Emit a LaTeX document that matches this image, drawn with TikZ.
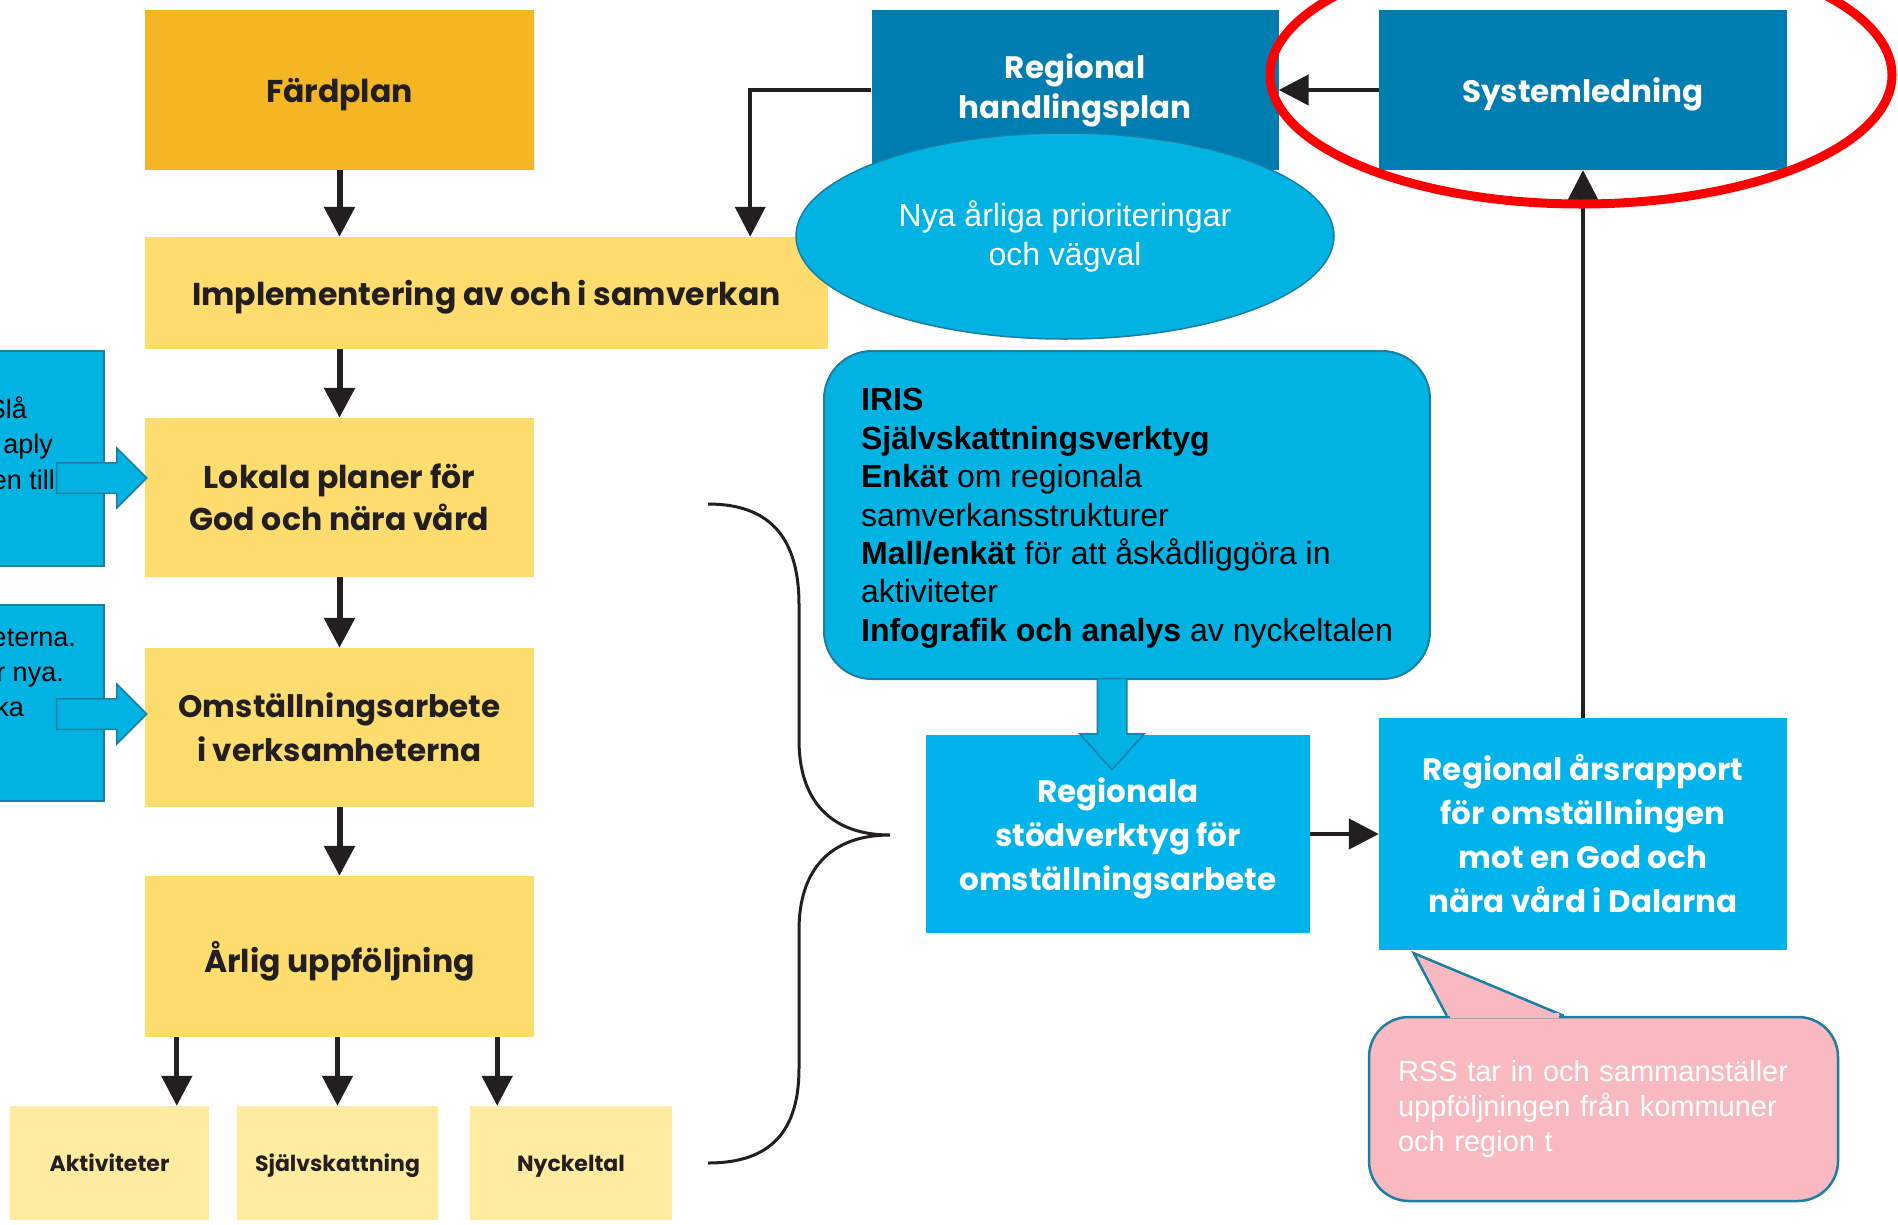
\documentclass[tikz,border=0pt]{standalone}
\usepackage{fontspec}
\setmainfont{Liberation Sans}
\newfontfamily\futfont{Poppins}
\usepackage{tikz}
\usetikzlibrary{shapes.geometric, shapes.arrows, arrows.meta}

\definecolor{fardgul}{HTML}{F4B723}
\definecolor{gul}{HTML}{FEDC6E}
\definecolor{ljusgul}{HTML}{FFECA0}
\definecolor{morkbla}{HTML}{007DB0}
\definecolor{ljusbla}{HTML}{00B3EB}
\definecolor{cyan}{HTML}{00B3E3}
\definecolor{kant}{HTML}{1C7EA0}
\definecolor{rosa}{HTML}{F8B9C0}
\definecolor{svart}{HTML}{231F20}

\begin{document}
\begin{tikzpicture}[x=1pt, y=-1pt]
  \tikzstyle{block} = [rectangle, align=center, inner sep=0pt, font=\futfont\bfseries\fontsize{31.5}{42}\selectfont]
  \tikzstyle{gulblock} = [block, fill=gul, text=svart, minimum width=389pt, minimum height=160pt]
  \tikzstyle{litenblock} = [block, fill=ljusgul, text=svart, minimum height=114pt, text depth=0pt, font=\futfont\bfseries\fontsize{22}{26}\selectfont]
  \tikzstyle{blablock} = [block, fill=ljusbla, text=white, font=\futfont\bfseries\fontsize{31}{44}\selectfont]
  \tikzstyle{morkblock} = [block, fill=morkbla, text=white, minimum width=407pt, minimum height=160pt, font=\futfont\bfseries\fontsize{31}{40}\selectfont]
  \tikzstyle{sidoruta} = [rectangle, fill=cyan, draw=kant, line width=2pt]
  \tikzstyle{sidotext} = [anchor=base east, inner sep=0pt, font=\fontsize{27}{35}\selectfont]
  \tikzstyle{blockpil} = [single arrow, fill=cyan, draw=kant, line width=1.5pt, inner xsep=0pt, anchor=tip]
  \tikzstyle{arrow} = [line width=6pt, -{Triangle[width=30pt,length=30pt]}, draw=svart]
  \tikzstyle{tunnpil} = [line width=4.5pt, -{Triangle[width=30pt,length=30pt]}, draw=svart]

  \useasboundingbox (0,0) rectangle (1898,1224);

  % vänster kolumn
  \node[block, fill=fardgul, text=svart, minimum width=389pt, minimum height=160pt, text depth=0pt] (fard) at (339.5,90) {Färdplan};
  \node[gulblock, minimum width=683pt, minimum height=112pt, text depth=0pt] (impl) at (486.5,293) {Implementering av och i samverkan};
  \node[gulblock, minimum height=159pt] (lokala) at (339.5,497.5) {Lokala planer för\\God och nära vård};
  \node[gulblock, minimum height=159pt, font=\futfont\bfseries\fontsize{31}{44}\selectfont] (omst) at (339.5,727.5) {Omställningsarbete\\i verksamheterna};
  \node[gulblock, minimum height=161pt, text depth=0pt] (arlig) at (339.5,956.5) {Årlig uppföljning};
  \node[litenblock, minimum width=199pt] (akt) at (109.5,1163) {Aktiviteter};
  \node[litenblock, minimum width=201pt] (sjalv) at (337.5,1163) {Självskattning};
  \node[litenblock, minimum width=202pt] (nyck) at (571,1163) {Nyckeltal};

  % avklippta rutor i vänsterkanten
  \node[sidoruta, minimum width=124pt, minimum height=215pt] (vanster1) at (42,458.5) {};
  \node[sidoruta, minimum width=124pt, minimum height=196pt] (vanster2) at (42,703) {};
  \node[sidotext] (v1a) at (27,418) {Slå};
  \node[sidotext] (v1b) at (53,453) {aply};
  \node[sidotext] (v1c) at (55,489) {en till};
  \node[sidotext] (v2a) at (76,646) {eterna.};
  \node[sidotext] (v2b) at (64,681) {r nya.};
  \node[sidotext] (v2c) at (24,716) {ka};
  \node[blockpil, minimum height=90pt, inner ysep=14.5pt, single arrow head extend=14.5pt] (pil1) at ([xshift=3pt]lokala.west |- 0,478) {};
  \node[blockpil, minimum height=90pt, inner ysep=14.5pt, single arrow head extend=14.5pt] (pil2) at ([xshift=3pt]omst.west |- 0,714) {};

  % höger del
  \node[morkblock] (rhp) at (1075,90) {Regional\\handlingsplan};
  \node[morkblock, minimum width=408pt, text depth=0pt] (sys) at (1583,90) {Systemledning};
  \node[ellipse, fill=cyan, draw=kant, line width=1.5pt, minimum width=538pt, minimum height=206pt, inner sep=0pt, text=white, align=center, font=\fontsize{32}{39}\selectfont] (prio) at (1065,236) {Nya årliga prioriteringar\\och vägval};
  \node[rectangle, rounded corners=48pt, fill=cyan, draw=kant, line width=2pt, minimum width=606pt, minimum height=328pt, align=left, text depth=0pt, font=\fontsize{32}{38.4}\selectfont] (iris) at (1127,515)
    {\textbf{IRIS}\\
     \textbf{Självskattningsverktyg}\\
     \textbf{Enkät} om regionala\\
     samverkansstrukturer\\
     \textbf{Mall/enkät} för att åskådliggöra in\\
     aktiviteter\\
     \textbf{Infografik och analys} av nyckeltalen};
  \node[blablock, minimum width=384pt, minimum height=198pt, text depth=-10pt] (stod) at (1118,834) {Regionala\\stödverktyg för\\omställningsarbete};
  \node[blockpil, minimum height=91pt, inner ysep=14pt, single arrow head extend=17.5pt, single arrow tip angle=84, rotate=-90] (pil3) at ([yshift=-36pt]stod.north -| 1112,0) {};
  \node[blablock, minimum width=408pt, minimum height=232pt] (rapport) at (1583,834) {Regional årsrapport\\för omställningen\\mot en God och\\nära vård i Dalarna};
  \node[rectangle, rounded corners=40pt, fill=rosa, draw=kant, line width=2.5pt, minimum width=469pt, minimum height=184pt, text width=411pt, align=left, text=white, font=\fontsize{29}{35}\selectfont] (rss) at (1603.5,1109)
    {RSS tar in och sammanställer\\uppföljningen från kommuner\\och region t};
  \fill[rosa] ([xshift=79pt]rss.north west) -- ([xshift=35pt,yshift=-3pt]rapport.south west) -- ([xshift=196pt]rss.north west) -- cycle;
  \draw[kant, line width=2.5pt, line join=miter] ([xshift=79pt]rss.north west) -- ([xshift=35pt,yshift=-3pt]rapport.south west) -- ([xshift=196pt]rss.north west);
  \draw[rosa, line width=5pt] ([xshift=82pt]rss.north west) -- ([xshift=191pt]rss.north west);

  % pilar
  \draw[arrow] (fard.south) -- (fard.south |- impl.north);
  \draw[arrow] (lokala.north |- impl.south) -- (lokala.north);
  \draw[arrow] (lokala) -- (omst);
  \draw[arrow] (omst) -- (arlig);
  \draw[arrow, line width=5pt] ([xshift=32pt]arlig.south west) -- ([xshift=32pt]arlig.south west |- akt.north);
  \draw[arrow, line width=5pt] (arlig.south -| sjalv) -- (sjalv.north);
  \draw[arrow, line width=5pt] ([xshift=-37pt]arlig.south east) -- ([xshift=-37pt]arlig.south east |- nyck.north);
  \draw[tunnpil, line width=4pt] (rhp.west) -| ([xshift=-78pt]impl.north east);
  \draw[tunnpil] (sys.west) -- (rhp.east);
  \draw[tunnpil, line width=3.5pt] (rapport.north) -- (sys.south);
  \draw[tunnpil] (stod.east) -- (rapport.west);

  % klammer
  \draw[svart, line width=3pt] (708,504) .. controls (772,504) and (799,540) .. (799,605) -- (799,740)
    .. controls (799,800) and (830,835) .. (890,835)
    .. controls (830,835) and (799,870) .. (799,930) -- (799,1068)
    .. controls (799,1130) and (772,1163) .. (708,1163);

  % markering
  \node[ellipse, draw=red, line width=9pt, minimum width=622pt, minimum height=258pt] (ring) at (1581,75) {};
\end{tikzpicture}
\end{document}
